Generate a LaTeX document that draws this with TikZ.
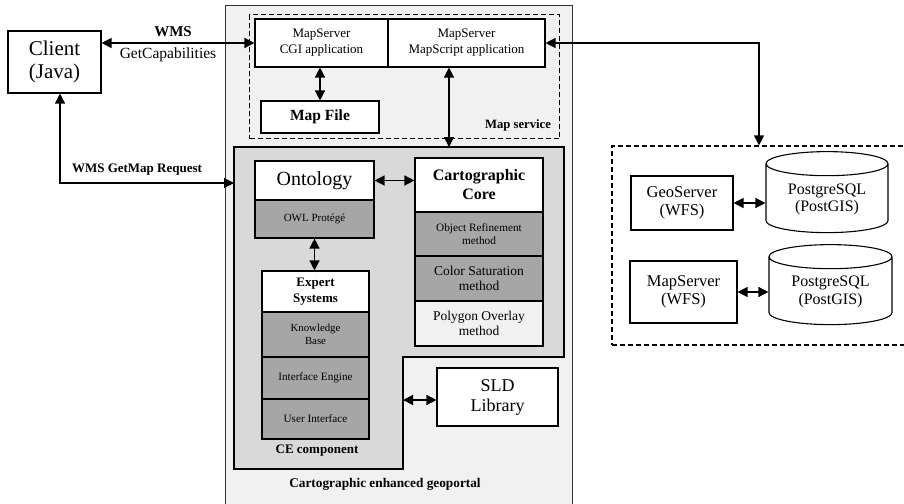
\documentclass[tikz,border=0pt]{standalone}
\usepackage{fontspec}
\setmainfont{Liberation Serif}
\usetikzlibrary{arrows.meta,shapes.geometric}

\definecolor{portalgray}{HTML}{F1F1F1}
\definecolor{cegray}{HTML}{D9D9D9}
\definecolor{cellgray}{HTML}{A6A6A6}

\tikzset{
  box/.style={draw, line width=1.1pt, fill=white, align=center, inner sep=1pt},
  cell/.style={box, fill=cellgray},
  dbase/.style={draw, line width=1.1pt, fill=white, cylinder, shape border rotate=90, aspect=0.3, align=center, inner sep=1pt},
  link/.style={line width=1.3pt, {Triangle[length=10pt,width=10pt]}-{Triangle[length=10pt,width=10pt]}},
  dashbox/.style={draw, line width=1.2pt, dash pattern=on 5pt off 3pt, inner sep=0pt},
}

\begin{document}
\begin{tikzpicture}[x=1pt, y=-1pt]
  \useasboundingbox (0,0) rectangle (904,503);
  % ---------------------------------------------------------------- containers
  \node[draw=black!80, line width=0.9pt, fill=portalgray, minimum width=347, minimum height=502,
        anchor=north west, inner sep=0pt] (portal) at (225,5) {};
  \node[dashbox, minimum width=310, minimum height=124, anchor=north west] (mapsvc) at (249,14) {};
  \node[dashbox, minimum width=294, minimum height=199] (wfs) at (759,245.5) {};
  % the CE component: an L-shaped grey area
  \coordinate (ceTop) at (449,147);
  \coordinate (ceLeft) at (234,183);
  \coordinate (ceStep) at (403,400);
  \fill[cegray, draw=black, line width=1.1pt]
    (234,147) -- (564,147) -- (564,357) -- (403,357) -- (403,469) -- (234,469) -- cycle;
  % ---------------------------------------------------------------- client and map service
  \node[box, minimum width=93, minimum height=62, font=\fontsize{21}{23}\selectfont] (client) at (54.5,62) {Client\\(Java)};
  \node[box, minimum width=133, minimum height=48, font=\fontsize{13}{16}\selectfont] (cgi) at (321.5,43) {MapServer\\CGI application};
  \node[box, minimum width=157, minimum height=48, font=\fontsize{13}{16}\selectfont] (mapscript) at (466.5,43) {MapServer\\MapScript application};
  \node[box, minimum width=118, minimum height=32, font=\bfseries\fontsize{15.5}{17}\selectfont] (mapfile) at (320,117) {Map File};
  % ---------------------------------------------------------------- CE component
  \node[box, minimum width=119, minimum height=39, font=\fontsize{20}{22}\selectfont] (onto) at (314.5,180.5) {Ontology};
  \node[cell, minimum width=119, minimum height=38, font=\fontsize{11}{12}\selectfont] (owl) at (314.5,219) {OWL Protégé};
  \node[box, minimum width=128, minimum height=54, font=\bfseries\fontsize{16}{19}\selectfont] (carto) at (479,185) {Cartographic\\Core};
  \node[cell, minimum width=128, minimum height=44, font=\fontsize{11.3}{12.5}\selectfont] (objref) at (479,234) {Object Refinement\\method};
  \node[cell, minimum width=128, minimum height=45, font=\fontsize{13.5}{14.5}\selectfont] (colsat) at (479,278.5) {Color Saturation\\method};
  \node[box, fill=portalgray, minimum width=128, minimum height=45, font=\fontsize{13.5}{14.5}\selectfont] (polyov) at (479,323.5) {Polygon Overlay\\method};
  \node[box, minimum width=107, minimum height=41, font=\bfseries\fontsize{13}{15.5}\selectfont] (expert) at (315.5,291.5) {Expert\\Systems};
  \node[cell, minimum width=107, minimum height=45, font=\fontsize{10.8}{12.5}\selectfont] (kbase) at (315.5,334.5) {Knowledge\\Base};
  \node[cell, minimum width=107, minimum height=42, font=\fontsize{11.2}{12}\selectfont] (iengine) at (315.5,378) {Interface Engine};
  \node[cell, minimum width=107, minimum height=40, font=\fontsize{11.2}{12}\selectfont] (uiface) at (315.5,419) {User Interface};
  \node[box, minimum width=121, minimum height=58, font=\fontsize{18}{20}\selectfont] (sld) at (497.5,397) {SLD\\Library};
  % ---------------------------------------------------------------- WFS servers
  \node[box, minimum width=102, minimum height=54, font=\fontsize{16.5}{17.5}\selectfont] (geo) at (682,203) {GeoServer\\(WFS)};
  \node[dbase, minimum width=122, minimum height=81, font=\fontsize{16}{17.5}\selectfont] (db1) at (827,199.5) {PostgreSQL\\(PostGIS)};
  \node[box, minimum width=107, minimum height=62, font=\fontsize{16.5}{17.5}\selectfont] (mapwfs) at (683.5,292) {MapServer\\(WFS)};
  \node[dbase, minimum width=123, minimum height=80, font=\fontsize{16}{17.5}\selectfont] (db2) at (830.5,292) {PostgreSQL\\(PostGIS)};
  % ---------------------------------------------------------------- labels
  \node[font=\bfseries\fontsize{15}{16}\selectfont] (wmslbl) at (173,32) {WMS};
  \node[font=\fontsize{15.5}{16}\selectfont] (getcap) at (168,55) {GetCapabilities};
  \node[font=\bfseries\fontsize{13}{14}\selectfont] (getmap) at (137,170) {WMS GetMap Request};
  \node[font=\bfseries\fontsize{12.7}{14}\selectfont] (mslbl) at (518,125) {Map service};
  \node[font=\bfseries\fontsize{13}{14}\selectfont] (celbl) at (317,451) {CE component};
  \node[font=\bfseries\fontsize{13.3}{14}\selectfont] (portallbl) at (385,484) {Cartographic enhanced geoportal};
  % ---------------------------------------------------------------- connectors
  \draw[link] (cgi.west -| client.east) -- (cgi.west);
  \draw[link] ([xshift=5.5pt]client.south) |- (ceLeft);
  \draw[link] (cgi.south -| mapfile.north) -- (mapfile.north);
  \draw[link] (ceTop |- mapscript.south) -- (ceTop);
  \draw[link] (mapscript.east) -| (wfs.north);
  \draw[link] (onto.east) -- (onto.east -| carto.west);
  \draw[link] (owl.south) -- (owl.south |- expert.north);
  \draw[link] (ceStep) -- (ceStep -| sld.west);
  \draw[link] (geo.east) -- (geo.east -| db1.west);
  \draw[link] (mapwfs.east) -- (mapwfs.east -| db2.west);
\end{tikzpicture}
\end{document}
